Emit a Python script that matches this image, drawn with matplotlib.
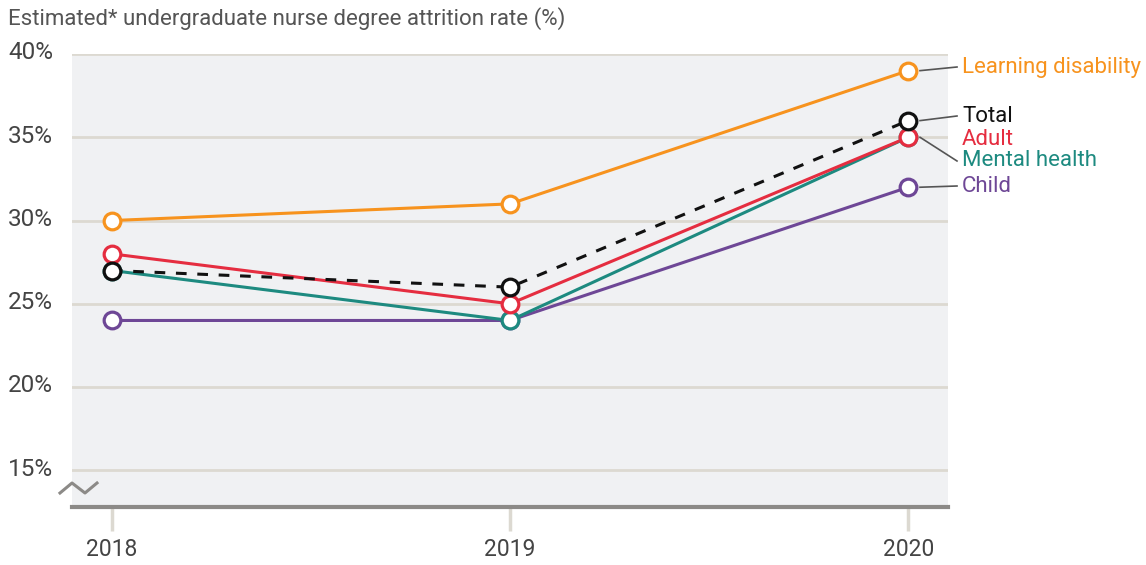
import numpy as np
import matplotlib.pyplot as plt
from matplotlib.lines import Line2D

#--data--
years = [2018, 2019, 2020]
learning_disability = [30, 31, 39]
total = [27, 26, 36]
adult = [28, 25, 35]
mental_health = [27, 24, 35]
child = [24, 24, 32]

series_names = ['Learning disability', 'Total', 'Adult', 'Mental health', 'Child']
y_ticks = [15, 20, 25, 30, 35, 40]

colors = {'Learning disability': '#f7931e',
          'Total': '#111111',
          'Adult': '#e52d40',
          'Mental health': '#1d8a80',
          'Child': '#6e4796'}

plt.rcParams['font.family'] = ['Roboto', 'DejaVu Sans']

fig = plt.figure(figsize=(11.46, 5.65), dpi=100)
ax = fig.add_axes([72/1146, 58/565, 876/1146, 453/565])
ax.set_facecolor('#f0f1f3')
ax.set_xlim(2017.9, 2020.1)
ax.set_ylim(12.8, 40)

# gridlines
for t in y_ticks:
    ax.axhline(t, color='#dcd9d1', lw=2, zorder=1)

data = {'Learning disability': learning_disability, 'Total': total,
        'Adult': adult, 'Mental health': mental_health, 'Child': child}

# draw order so that total stays on top
for name in ['Child', 'Mental health', 'Adult', 'Learning disability', 'Total']:
    ls = (0, (3.5, 3.5)) if name == 'Total' else '-'
    ax.plot(years, data[name], color=colors[name], lw=2.2, ls=ls, zorder=3)
    ax.plot(years, data[name], ls='none', marker='o', ms=12, mfc='white',
            mec=colors[name], mew=2.3, zorder=4)

for s in ['top', 'left', 'right']:
    ax.spines[s].set_visible(False)
ax.spines['bottom'].set_color('#8c8a87')
ax.spines['bottom'].set_linewidth(3)

ax.set_xticks(years)
ax.set_xticklabels([str(y) for y in years])
ax.tick_params(axis='x', length=17, width=2.5, color='#dcd9d1', pad=5,
               labelsize=16.5, labelcolor='#444444')
ax.set_yticks([])

for t in y_ticks:
    fig.text(8/1146, ax.transData.transform((0, t))[1]/565 + 0.002, '{}%'.format(t),
             ha='left', va='center', fontsize=17.5, color='#444444')

fig.text(8/1146, 1 - 19/565, 'Estimated* undergraduate nurse degree attrition rate (%)',
         ha='left', va='center', fontsize=16, color='#555555')

# axis break mark
fig.add_artist(Line2D(np.array([60, 72, 85, 97])/1146,
                      1 - np.array([493, 483, 493, 483])/565,
                      color='#8c8a87', lw=2.2))

# labels on the right
label_y = {'Learning disability': 67, 'Total': 116, 'Adult': 140,
           'Mental health': 161, 'Child': 186}
for name in series_names:
    py = ax.transData.transform((years[-1], data[name][-1]))[1]
    ly = label_y[name]
    if name != 'Adult':
        fig.add_artist(Line2D([920/1146, 957/1146], [py/565, 1 - ly/565],
                              color='#555555', lw=1.2))
    fig.text(962/1146, 1 - ly/565, name, ha='left', va='center',
             fontsize=16, color=colors[name])

fig.savefig('out.png', dpi=100)
